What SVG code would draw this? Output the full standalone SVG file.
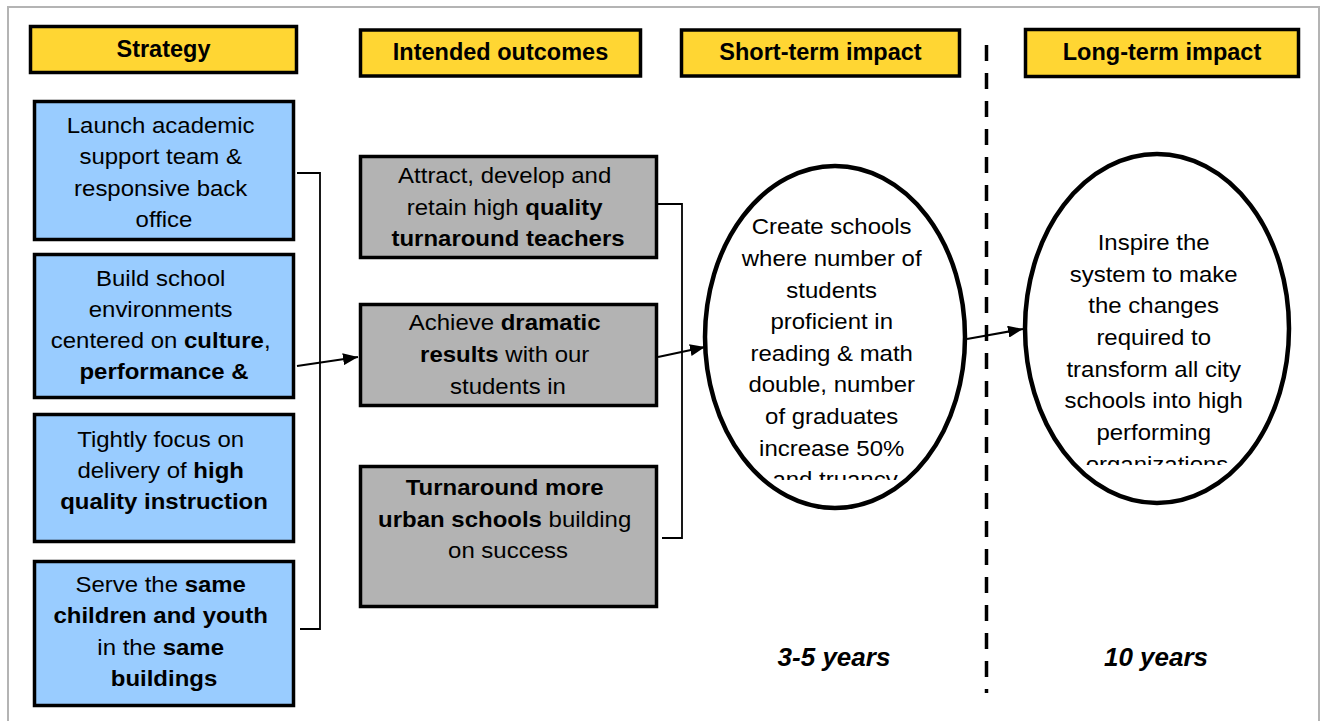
<svg xmlns="http://www.w3.org/2000/svg" width="1323" height="721" viewBox="0 0 1323 721">
  <defs>
    <style>
      .frame { fill: #ffffff; stroke: #b4b4b4; stroke-width: 2; }
      .hdr { fill: #FFD633; stroke: #000; stroke-width: 3.5; }
      .hdr-t { font-family: "Liberation Sans", Arial, sans-serif; font-size: 23.5px; font-weight: bold; fill: #000; text-anchor: middle; }
      .strat { fill: #99CCFF; stroke: #000; stroke-width: 3.5; }
      .outc { fill: #B3B3B3; stroke: #000; stroke-width: 3.5; }
      .oval { fill: #ffffff; stroke: #000; stroke-width: 4.5; }
      .t { font-family: "Liberation Sans", Arial, sans-serif; font-size: 22px; fill: #000; text-anchor: middle; }
      .b { font-weight: bold; }
      .yrs { font-family: "Liberation Sans", Arial, sans-serif; font-size: 26px; font-weight: bold; font-style: italic; fill: #000; text-anchor: middle; }
      .brk { fill: none; stroke: #000; stroke-width: 1.8; }
      .arr { fill: none; stroke: #000; stroke-width: 2.2; marker-end: url(#head); }
      .div { fill: none; stroke: #000; stroke-width: 3.5; stroke-dasharray: 16 12; }
    </style>
    <marker id="head" markerUnits="userSpaceOnUse" markerWidth="16" markerHeight="12" refX="15" refY="6" orient="auto">
      <path d="M0,0 L15,6 L0,12 Z" fill="#000"/>
    </marker>
    <clipPath id="clipShort">
      <rect x="700" y="160" width="270" height="320"/>
    </clipPath>
    <clipPath id="clipLong">
      <rect x="1020" y="150" width="280" height="315"/>
    </clipPath>
  </defs>

  <!-- page frame -->
  <rect class="frame" x="8" y="7" width="1311" height="730"/>

  <!-- column headers -->
  <g id="hdr-strategy">
    <rect class="hdr" x="30.5" y="26.5" width="266" height="46"/>
    <text class="hdr-t" x="163.5" y="56.5">Strategy</text>
  </g>
  <g id="hdr-outcomes">
    <rect class="hdr" x="360.5" y="30" width="280" height="46"/>
    <text class="hdr-t" x="500.5" y="59.5">Intended outcomes</text>
  </g>
  <g id="hdr-short">
    <rect class="hdr" x="681.5" y="30" width="278" height="46"/>
    <text class="hdr-t" x="820.5" y="59.5">Short-term impact</text>
  </g>
  <g id="hdr-long">
    <rect class="hdr" x="1025.5" y="29.5" width="273" height="47"/>
    <text class="hdr-t" x="1162" y="59.5">Long-term impact</text>
  </g>

  <!-- strategy boxes -->
  <g id="strategy-1">
    <rect class="strat" x="34.5" y="101.5" width="259" height="138"/>
    <g transform="translate(164 0) scale(1.09 1)">
      <text class="t">
        <tspan x="0" y="133">Launch academic</tspan>
        <tspan x="0" y="164.5">support team &amp;</tspan>
        <tspan x="0" y="196">responsive back</tspan>
        <tspan x="0" y="227.5">office</tspan>
      </text>
    </g>
  </g>
  <g id="strategy-2">
    <rect class="strat" x="34.5" y="254.5" width="259" height="143"/>
    <g transform="translate(164 0) scale(1.09 1)">
      <text class="t">
        <tspan x="0" y="286">Build school</tspan>
        <tspan x="0" y="317">environments</tspan>
        <tspan x="0" y="348">centered on <tspan class="b">culture</tspan>,</tspan>
        <tspan x="0" y="379" class="b">performance &amp;</tspan>
      </text>
    </g>
  </g>
  <g id="strategy-3">
    <rect class="strat" x="34.5" y="414.5" width="259" height="127"/>
    <g transform="translate(164 0) scale(1.09 1)">
      <text class="t">
        <tspan x="0" y="447">Tightly focus on</tspan>
        <tspan x="0" y="478">delivery of <tspan class="b">high</tspan></tspan>
        <tspan x="0" y="509" class="b">quality instruction</tspan>
      </text>
    </g>
  </g>
  <g id="strategy-4">
    <rect class="strat" x="34.5" y="561.5" width="259" height="144"/>
    <g transform="translate(164 0) scale(1.09 1)">
      <text class="t">
        <tspan x="0" y="592">Serve the <tspan class="b">same</tspan></tspan>
        <tspan x="0" y="623" class="b">children and youth</tspan>
        <tspan x="0" y="655">in the <tspan class="b">same</tspan></tspan>
        <tspan x="0" y="686" class="b">buildings</tspan>
      </text>
    </g>
  </g>

  <!-- intended outcome boxes -->
  <g id="outcome-1">
    <rect class="outc" x="360.5" y="156.5" width="296" height="101"/>
    <g transform="translate(508 0) scale(1.09 1)">
      <text class="t">
        <tspan x="0" y="183">Attract, develop and</tspan>
        <tspan x="0" y="215">retain high <tspan class="b">quality</tspan></tspan>
        <tspan x="0" y="246" class="b">turnaround teachers</tspan>
      </text>
    </g>
  </g>
  <g id="outcome-2">
    <rect class="outc" x="360.5" y="304.5" width="296" height="101"/>
    <g transform="translate(508 0) scale(1.09 1)">
      <text class="t">
        <tspan x="0" y="330">Achieve <tspan class="b">dramatic</tspan></tspan>
        <tspan x="0" y="362"><tspan class="b">results</tspan> with our</tspan>
        <tspan x="0" y="394">students in</tspan>
      </text>
    </g>
  </g>
  <g id="outcome-3">
    <rect class="outc" x="360.5" y="466.5" width="296" height="140"/>
    <g transform="translate(508 0) scale(1.09 1)">
      <text class="t">
        <tspan x="0" y="495" class="b">Turnaround more</tspan>
        <tspan x="0" y="527"><tspan class="b">urban schools</tspan> building</tspan>
        <tspan x="0" y="558">on success</tspan>
      </text>
    </g>
  </g>

  <!-- short-term impact -->
  <g id="impact-short">
    <ellipse class="oval" cx="835" cy="337" rx="130" ry="171"/>
    <g clip-path="url(#clipShort)">
      <g transform="translate(835 0) scale(1.09 1)">
        <text class="t">
          <tspan x="0" y="234">Create schools</tspan>
          <tspan x="0" y="266">where number of</tspan>
          <tspan x="0" y="298">students</tspan>
          <tspan x="0" y="329">proficient in</tspan>
          <tspan x="0" y="361">reading &amp; math</tspan>
          <tspan x="0" y="392">double, number</tspan>
          <tspan x="0" y="424">of graduates</tspan>
          <tspan x="0" y="456">increase 50%</tspan>
          <tspan x="0" y="487">and truancy</tspan>
        </text>
      </g>
    </g>
  </g>

  <!-- long-term impact -->
  <g id="impact-long">
    <ellipse class="oval" cx="1157" cy="328.5" rx="132" ry="174.5"/>
    <g clip-path="url(#clipLong)">
      <g transform="translate(1157 0) scale(1.09 1)">
        <text class="t">
          <tspan x="0" y="250">Inspire the</tspan>
          <tspan x="0" y="282">system to make</tspan>
          <tspan x="0" y="313.5">the changes</tspan>
          <tspan x="0" y="345">required to</tspan>
          <tspan x="0" y="377">transform all city</tspan>
          <tspan x="0" y="408.5">schools into high</tspan>
          <tspan x="0" y="440">performing</tspan>
          <tspan x="0" y="472">organizations</tspan>
        </text>
      </g>
    </g>
  </g>

  <!-- time horizons -->
  <g id="horizon-short">
    <text class="yrs" x="834" y="666">3-5 years</text>
  </g>
  <g id="horizon-long">
    <text class="yrs" x="1156" y="666">10 years</text>
  </g>

  <!-- connectors -->
  <g id="connectors">
    <path class="div" d="M986.5,45 V693"/>
    <path class="brk" d="M297,173 H320 V629 H300"/>
    <path class="brk" d="M657,204 H682 V538 H662"/>
    <path class="arr" d="M297,366 L358,357"/>
    <path class="arr" d="M658,357 L705,347"/>
    <path class="arr" d="M967,339 L1023,329"/>
  </g>
</svg>
